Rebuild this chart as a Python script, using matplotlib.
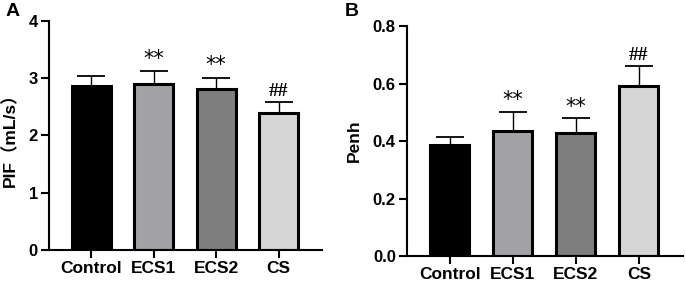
import numpy as np, matplotlib
matplotlib.use('Agg')
import matplotlib.pyplot as plt

plt.rcParams.update({'font.family': ['Liberation Sans', 'Noto Sans CJK SC'], 'font.weight': 'bold',
                     'font.size': 12, 'axes.linewidth': 1.5})

groups = ['Control', 'ECS1', 'ECS2', 'CS']
colors = ['#000000', '#a2a2a6', '#7e7e7e', '#d6d6d6']
pif_mean = [2.86, 2.90, 2.81, 2.40]
pif_err = [0.18, 0.22, 0.20, 0.18]
penh_mean = [0.388, 0.436, 0.427, 0.591]
penh_err = [0.025, 0.066, 0.052, 0.071]
marks = ['', '**', '**', '##']

fig = plt.figure(figsize=(6.85, 2.87), dpi=100)
axA = fig.add_axes([0.0715, 0.129, 0.399, 0.798])
axB = fig.add_axes([0.594, 0.108, 0.403, 0.801])


def panel(ax, mean, err, ylim, yticks, ylabel, fmt, pad):
    x = np.arange(len(groups))
    ax.bar(x, mean, width=0.62, color=colors, edgecolor='black', linewidth=2.2, zorder=2)
    ax.errorbar(x, mean, yerr=[np.zeros(len(err)), err], fmt='none', ecolor='black',
                elinewidth=1.0, capsize=10, capthick=1.3, zorder=1)
    for xi, m, e, s in zip(x, mean, err, marks):
        if s == '**':
            ax.text(xi, m + e + pad, s, ha='center', va='bottom', fontsize=15,
                    family=['DejaVu Sans'], fontweight='normal')
        elif s:
            ax.text(xi, m + e + pad, s, ha='center', va='bottom', fontsize=14,
                    family=['Liberation Serif'], fontweight='bold')
    ax.set_xlim(-0.68, 3.70)
    ax.set_ylim(*ylim)
    ax.set_yticks(yticks)
    ax.set_yticklabels([fmt.format(t) for t in yticks], fontsize=12)
    ax.set_xticks(x)
    ax.set_xticklabels(groups, fontsize=12.5)
    ax.set_ylabel(ylabel, fontweight='bold', fontsize=12.5)
    ax.spines[['top', 'right']].set_visible(False)
    ax.tick_params(length=6, width=1.5, pad=2)


panel(axA, pif_mean, pif_err, (0, 4), [0, 1, 2, 3, 4], 'PIF（mL/s）', '{:.0f}', 0.04)
panel(axB, penh_mean, penh_err, (0, 0.8), [0, 0.2, 0.4, 0.6, 0.8], 'Penh', '{:.1f}', 0.006)
axA.yaxis.set_label_coords(-0.114, 0.5)
axB.yaxis.set_label_coords(-0.163, 0.5)

fig.text(0.008, 0.99, 'A', fontsize=14, fontweight='bold', va='top')
fig.text(0.503, 0.99, 'B', fontsize=14, fontweight='bold', va='top')

fig.savefig('out.png', dpi=100)
